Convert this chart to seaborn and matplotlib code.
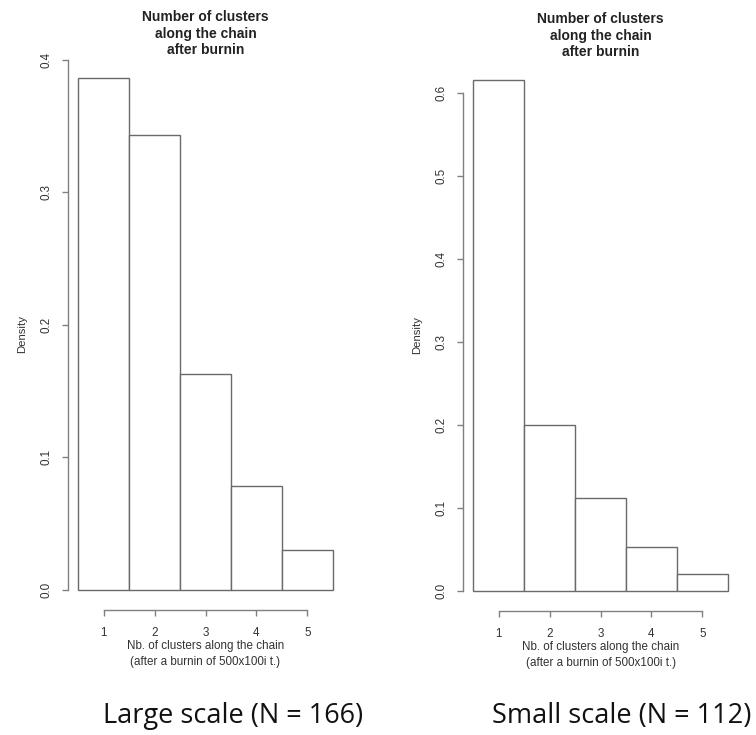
import matplotlib
matplotlib.use("Agg")
import matplotlib.pyplot as plt
import seaborn as sns

sns.set_style("ticks")
plt.rcParams['font.family'] = ['Liberation Sans', 'DejaVu Sans']

clusters = [1, 2, 3, 4, 5]
density_large = [0.386, 0.343, 0.163, 0.078, 0.030]
density_small = [0.615, 0.200, 0.112, 0.053, 0.020]
panel_titles = ["Large scale (N = 166)", "Small scale (N = 112)"]
y_ticks_large = [0.0, 0.1, 0.2, 0.3, 0.4]
y_ticks_small = [0.0, 0.1, 0.2, 0.3, 0.4, 0.5, 0.6]

title = "Number of clusters\nalong the chain\nafter burnin"
xlabel = "Nb. of clusters along the chain\n(after a burnin of 500x100i t.)"

W, H = 756, 735
fig = plt.figure(figsize=(W / 100, H / 100), dpi=100)

axis_grey = "#808080"
edge_grey = "#6a6a6a"
text_grey = "#333333"


def r_hist(left_px, bottom_px, top_px, dens, yticks):
    ax = fig.add_axes([left_px / W, (H - bottom_px) / H, 275 / W, (bottom_px - top_px) / H])
    sns.histplot(x=clusters, weights=dens, discrete=True, ax=ax,
                 color="white", edgecolor=edge_grey, linewidth=1.0, alpha=1)
    ymax = max(dens)
    pad = 0.04 * ymax
    ax.set_ylim(-pad, ymax + pad)
    ax.set_xlim(0.3, 5.7)
    ax.spines['top'].set_visible(False)
    ax.spines['right'].set_visible(False)
    ax.spines['left'].set_bounds(yticks[0], yticks[-1])
    ax.spines['bottom'].set_bounds(clusters[0], clusters[-1])
    for s in ('left', 'bottom'):
        ax.spines[s].set_color(axis_grey)
        ax.spines[s].set_linewidth(1.0)
    ax.set_yticks(yticks)
    ax.set_yticklabels([f"{v:.1f}" for v in yticks], rotation=90, va='center')
    ax.set_xticks(clusters)
    ax.tick_params(axis='both', colors=axis_grey, labelcolor=text_grey,
                   labelsize=8.4, length=4, width=1.0)
    ax.tick_params(axis='y', pad=7)
    ax.tick_params(axis='x', pad=8)
    ax.set_ylabel("Density", fontsize=8.2, color=text_grey, labelpad=10)
    ax.set_xlabel(xlabel, fontsize=8.4, color=text_grey, labelpad=1, linespacing=1.45)
    ax.set_title(title, fontsize=10, fontweight='bold', color="#222222", pad=3, linespacing=1.2)
    return ax


r_hist(68, 610, 58, density_large, y_ticks_large)
r_hist(463, 611, 60, density_small, y_ticks_small)

for xc, label in zip([233, 622], panel_titles):
    fig.text(xc / W, (H - 716) / H, label, ha='center', va='center',
             fontsize=19.5, family=['Open Sans', 'DejaVu Sans'], color="#111111")

fig.savefig("out.png", dpi=100, facecolor="white")
